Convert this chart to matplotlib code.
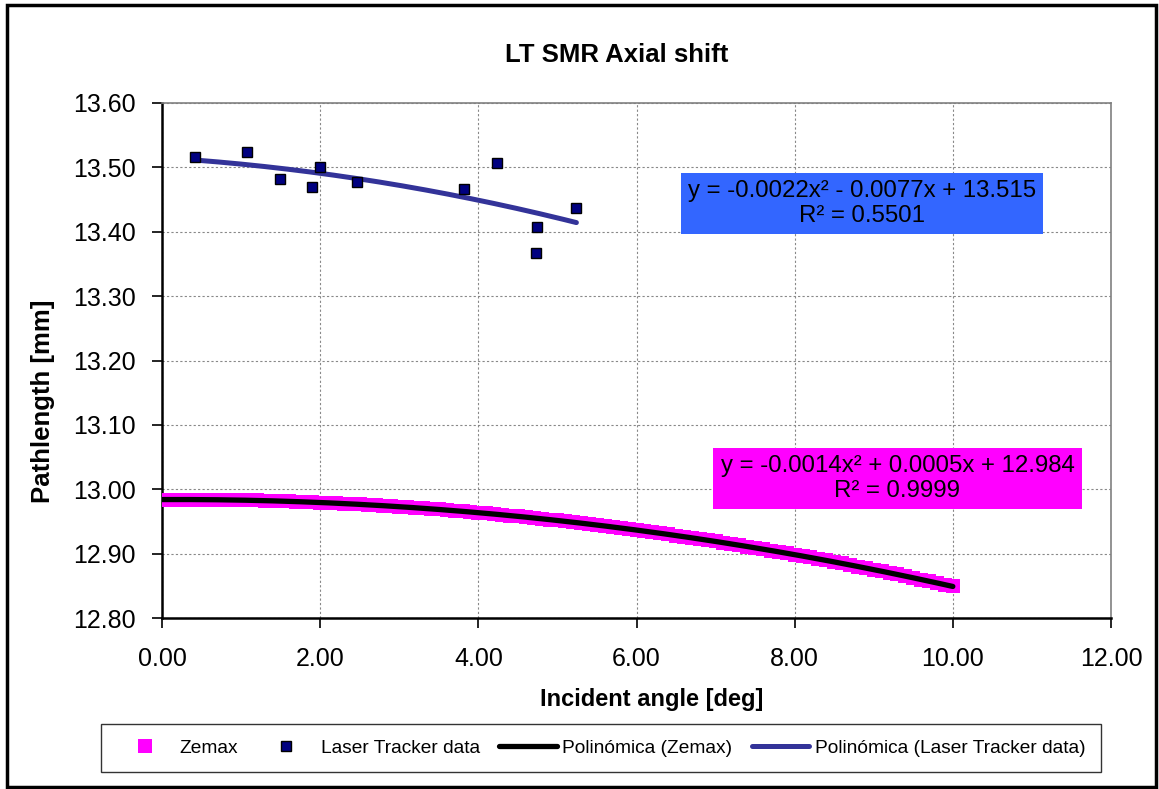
import numpy as np
import matplotlib
matplotlib.use("Agg")
import matplotlib.pyplot as plt
from matplotlib.patches import Rectangle

plt.rcParams["font.family"] = ["Liberation Sans", "DejaVu Sans"]

# ----------------------------
# Datos
# ----------------------------
# Zemax: ángulo 0..10 deg cada 0.1 deg
zemax_angle = np.round(np.arange(0, 101) * 0.1, 1)
zemax_path = [
    12.9840, 12.9840, 12.9840, 12.9840, 12.9840, 12.9839, 12.9838, 12.9837, 12.9835, 12.9833,
    12.9831, 12.9829, 12.9826, 12.9823, 12.9820, 12.9816, 12.9812, 12.9808, 12.9804, 12.9799,
    12.9794, 12.9789, 12.9783, 12.9777, 12.9771, 12.9765, 12.9758, 12.9751, 12.9744, 12.9737,
    12.9729, 12.9721, 12.9713, 12.9704, 12.9695, 12.9686, 12.9677, 12.9667, 12.9657, 12.9647,
    12.9636, 12.9625, 12.9614, 12.9603, 12.9591, 12.9579, 12.9567, 12.9554, 12.9541, 12.9528,
    12.9515, 12.9501, 12.9487, 12.9473, 12.9459, 12.9444, 12.9429, 12.9414, 12.9398, 12.9382,
    12.9366, 12.9350, 12.9333, 12.9316, 12.9299, 12.9281, 12.9263, 12.9245, 12.9227, 12.9208,
    12.9189, 12.9170, 12.9150, 12.9130, 12.9110, 12.9090, 12.9069, 12.9048, 12.9027, 12.9006,
    12.8984, 12.8962, 12.8940, 12.8917, 12.8894, 12.8871, 12.8848, 12.8824, 12.8800, 12.8776,
    12.8751, 12.8726, 12.8701, 12.8676, 12.8650, 12.8624, 12.8598, 12.8571, 12.8544, 12.8517,
    12.8490,
]

# Laser Tracker
lt_angle = [0.42, 1.07, 1.49, 1.90, 2.00, 2.47, 3.82, 4.24, 4.74, 4.73, 5.24]
lt_path = [13.516, 13.524, 13.482, 13.470, 13.500, 13.478, 13.466, 13.507, 13.407, 13.367, 13.437]

# Coeficientes de las líneas de tendencia (polinómica grado 2)
zemax_coef = [-0.0014, 0.0005, 12.984]
lt_coef = [-0.0022, -0.0077, 13.515]
zemax_label = "y = -0.0014x\u00b2 + 0.0005x + 12.984\nR\u00b2 = 0.9999"
lt_label = "y = -0.0022x\u00b2 - 0.0077x + 13.515\nR\u00b2 = 0.5501"

x_ticks = [0, 2, 4, 6, 8, 10, 12]
y_ticks = [12.80, 12.90, 13.00, 13.10, 13.20, 13.30, 13.40, 13.50, 13.60]

# ----------------------------
# Figura
# ----------------------------
fig = plt.figure(figsize=(11.59, 7.89), dpi=100)
ax = fig.add_axes([162 / 1159, 1 - 618 / 789, (1111 - 162) / 1159, (618 - 103) / 789])

ax.plot(zemax_angle, zemax_path, linestyle="none", marker="s", markersize=10.5,
        color="#FF00FF", markeredgewidth=0, label="Zemax", zorder=3)
ax.plot(lt_angle, lt_path, linestyle="none", marker="s", markersize=6.5,
        color="#000080", markeredgecolor="black", markeredgewidth=1.0,
        label="Laser Tracker data", zorder=5)

xz = np.linspace(min(zemax_angle), max(zemax_angle), 200)
ax.plot(xz, np.polyval(zemax_coef, xz), color="black", linewidth=3.8,
        solid_capstyle="round", label="Polinómica (Zemax)", zorder=4)
xl = np.linspace(min(lt_angle), max(lt_angle), 200)
ax.plot(xl, np.polyval(lt_coef, xl), color="#333399", linewidth=3.6,
        solid_capstyle="round", label="Polinómica (Laser Tracker data)", zorder=4)

ax.text(8.85, 13.444, lt_label, ha="center", va="center", fontsize=17.3,
        linespacing=1.15, zorder=6,
        bbox=dict(boxstyle="square,pad=0.3", facecolor="#3366FF", edgecolor="none"))
ax.text(9.30, 13.0165, zemax_label, ha="center", va="center", fontsize=17.3,
        linespacing=1.15, zorder=6,
        bbox=dict(boxstyle="square,pad=0.3", facecolor="#FF00FF", edgecolor="none"))

ax.set_xlim(0, 12)
ax.set_ylim(12.80, 13.60)
ax.set_xticks(x_ticks)
ax.set_yticks(y_ticks)
ax.set_xticklabels([f"{v:.2f}" for v in x_ticks])
ax.set_yticklabels([f"{v:.2f}" for v in y_ticks])
ax.tick_params(axis="both", direction="out", length=7, width=1.2, labelsize=18, pad=12)
ax.tick_params(axis="x", pad=14)
ax.grid(True, color="#888888", linestyle=(0, (2, 2)), linewidth=0.8)
ax.set_axisbelow(True)

for side in ["left", "bottom"]:
    ax.spines[side].set_color("black")
    ax.spines[side].set_linewidth(1.8)
for side in ["top", "right"]:
    ax.spines[side].set_color("#808080")
    ax.spines[side].set_linewidth(1.2)

ax.set_xlabel("Incident angle [deg]", fontsize=17, fontweight="bold")
ax.set_ylabel("Pathlength [mm]", fontsize=18.5, fontweight="bold")
ax.xaxis.set_label_coords(0.516, -0.136)
ax.yaxis.set_label_coords(-0.113, 0.421)
fig.text(617 / 1159, 1 - 55 / 789, "LT SMR Axial shift", ha="center", va="center",
         fontsize=18.5, fontweight="bold")

leg = fig.legend(loc="center", bbox_to_anchor=(601 / 1159, 1 - 748 / 789), ncol=4,
                 fontsize=13.8, frameon=True, fancybox=False, edgecolor="black",
                 handlelength=3.0, columnspacing=1.0, handletextpad=0.3,
                 borderpad=0.8)
leg.get_frame().set_linewidth(1.0)

# Borde exterior del gráfico
fig.patches.append(Rectangle((7 / 1159, 2 / 789), 1149 / 1159, 782 / 789,
                             transform=fig.transFigure, fill=False,
                             edgecolor="black", linewidth=2.5))

fig.savefig("out.png", dpi=100)
